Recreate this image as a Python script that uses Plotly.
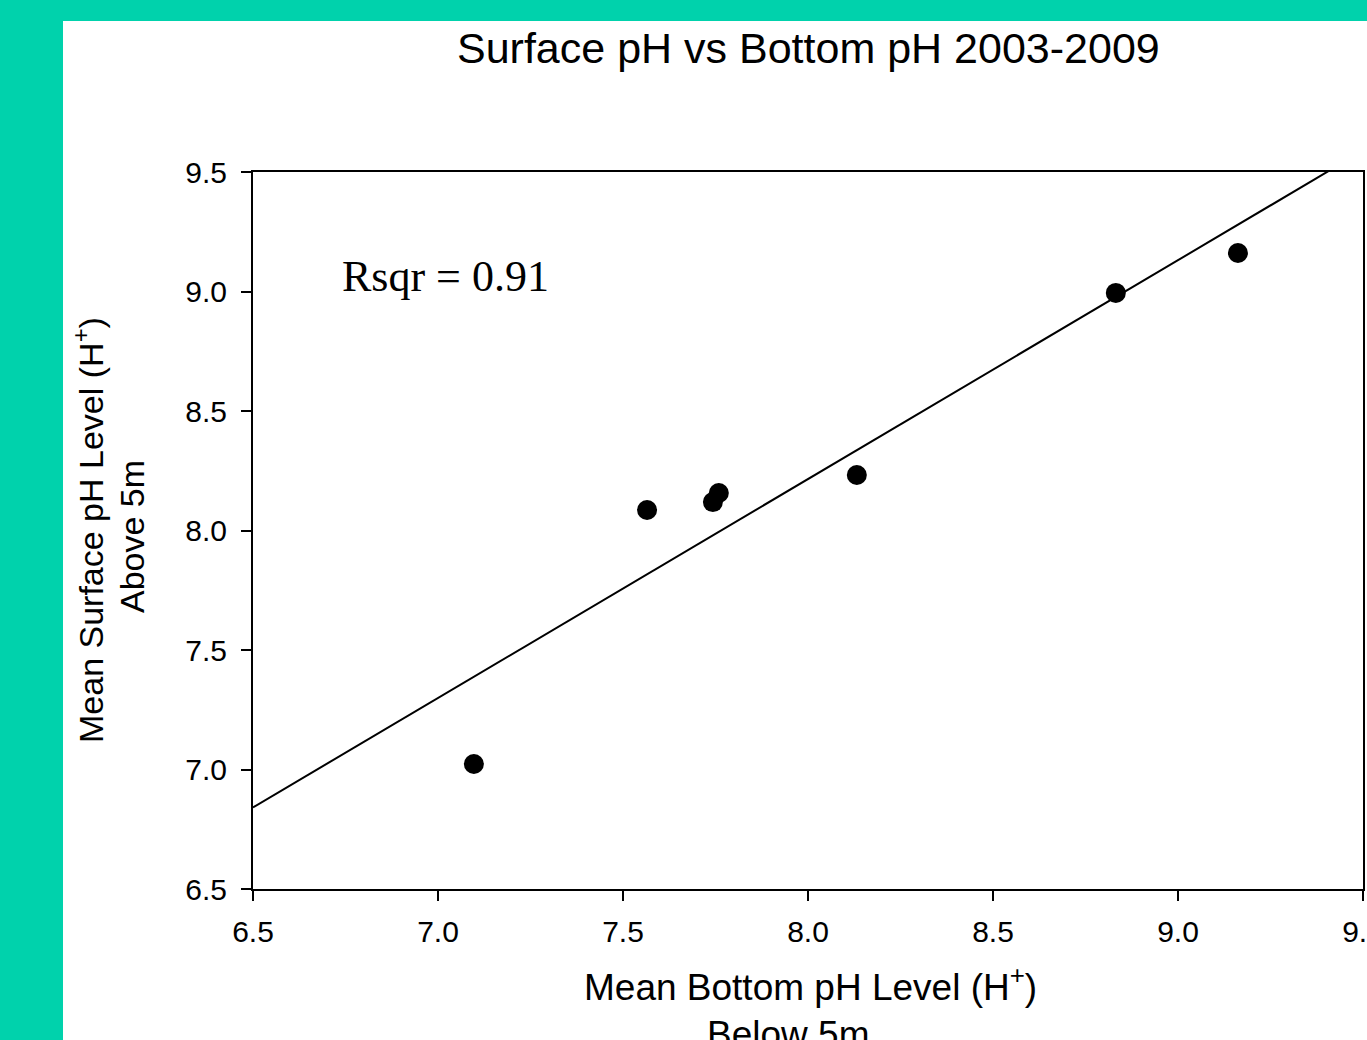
import numpy as np
import plotly.graph_objects as go

# Mean pH per year, 2003-2009
bottom_ph = [7.097, 7.565, 7.743, 7.759, 8.132, 8.832, 9.162]
surface_ph = [7.023, 8.086, 8.119, 8.157, 8.232, 8.994, 9.161]

x_ticks = [6.5, 7.0, 7.5, 8.0, 8.5, 9.0, 9.5]
y_ticks = [6.5, 7.0, 7.5, 8.0, 8.5, 9.0, 9.5]

title_text = "Surface pH vs Bottom pH 2003-2009"
x_title = ["Mean Bottom pH Level (H<sup>+</sup>)", "Below 5m"]
y_title = ["Mean Surface pH Level (H<sup>+</sup>)", "Above 5m"]

# Linear regression of surface on bottom pH
xs = np.array(bottom_ph)
ys = np.array(surface_ph)
slope, intercept = np.polyfit(xs, ys, 1)
r_sq = np.corrcoef(xs, ys)[0, 1] ** 2
fit_x = [x_ticks[0], x_ticks[-1]]
fit_y = [intercept + slope * v for v in fit_x]

W, H = 1367, 1040
L, R, T, B = 253, 4, 172, 151
pw, ph = W - L - R, H - T - B


def px(xp):
    return (xp - L) / pw


def py(yp):
    return (H - B - yp) / ph


font_family = "Arial, Liberation Sans, sans-serif"
teal = "#00D2AC"

fig = go.Figure()
fig.add_trace(go.Scatter(x=fit_x, y=fit_y, mode="lines",
                         line=dict(color="black", width=2), hoverinfo="skip"))
fig.add_trace(go.Scatter(x=bottom_ph, y=surface_ph, mode="markers",
                         marker=dict(color="black", size=20)))

axis_common = dict(
    showline=True, linecolor="black", linewidth=2, mirror=True,
    ticks="outside", ticklen=10, tickwidth=1.5, tickcolor="black",
    showgrid=False, zeroline=False, automargin=False,
    tickfont=dict(family=font_family, size=30, color="black"),
    tickformat=".1f", ticklabeloverflow="allow",
)

title_font = dict(family=font_family, size=37, color="black")
ytitle_font = dict(family=font_family, size=34, color="black")

fig.update_layout(
    width=W, height=H,
    margin=dict(l=L, r=R, t=T, b=B, autoexpand=False),
    paper_bgcolor=teal, plot_bgcolor="white",
    showlegend=False,
    xaxis=dict(range=[x_ticks[0], x_ticks[-1]], tickvals=x_ticks,
               ticklabelstandoff=5, **axis_common),
    yaxis=dict(range=[y_ticks[0], y_ticks[-1]], tickvals=y_ticks,
               ticklabelstandoff=8, **axis_common),
    shapes=[dict(type="rect", xref="paper", yref="paper", layer="below",
                 x0=px(63), x1=px(W), y0=py(H), y1=py(21),
                 fillcolor="white", line=dict(width=0))],
    annotations=[
        dict(text=title_text, xref="paper", yref="paper", x=px(808), y=py(48),
             showarrow=False, xanchor="center", yanchor="middle",
             font=dict(family=font_family, size=43, color="black")),
        dict(text=x_title[0], xref="paper", yref="paper", x=px(810), y=py(985),
             showarrow=False, xanchor="center", yanchor="middle", font=title_font),
        dict(text=x_title[1], xref="paper", yref="paper", x=px(788), y=py(1034),
             showarrow=False, xanchor="center", yanchor="middle", font=title_font),
        dict(text=y_title[0], xref="paper", yref="paper", x=px(88), y=py(530),
             showarrow=False, xanchor="center", yanchor="middle", textangle=-90,
             font=ytitle_font),
        dict(text=y_title[1], xref="paper", yref="paper", x=px(132), y=py(537),
             showarrow=False, xanchor="center", yanchor="middle", textangle=-90,
             font=ytitle_font),
        dict(text=f"Rsqr = {r_sq:.2f}", xref="paper", yref="paper", x=px(340), y=py(276),
             showarrow=False, xanchor="left", yanchor="middle",
             font=dict(family="Times New Roman, Liberation Serif, serif", size=44, color="black")),
    ],
)

# Keep the last x tick label clipped at the figure edge instead of widening the page
clip_js = """
document.querySelectorAll('.svg-container').forEach(function (el) {
    el.style.overflow = 'hidden';
});
"""

fig.write_html("out.html", post_script=clip_js)
